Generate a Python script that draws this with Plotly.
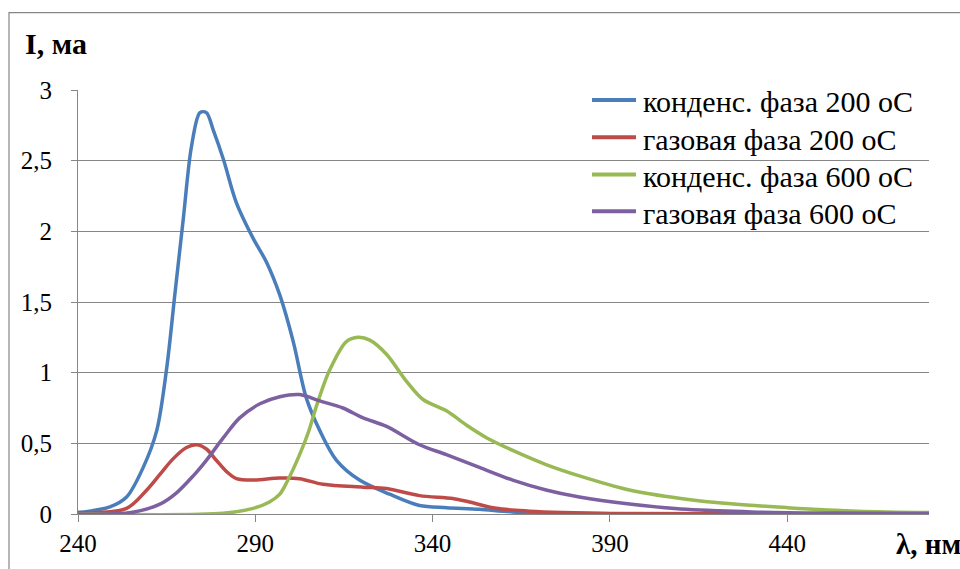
import plotly.graph_objects as go

# ---- data ----
blue_x = [240, 249, 253.7, 258.4, 262.2, 265, 267.3, 269.7, 272, 274.4, 276.2, 278.1, 281, 284.7,
          289.4, 293.2, 296.9, 300.7, 304.4, 308.2, 312.9, 319.4, 327.9, 336.3, 343.9, 353.2,
          362.5, 375, 400, 480]
blue_y = [0.01, 0.05, 0.12, 0.33, 0.59, 1.03, 1.55, 2.09, 2.60, 2.84, 2.84, 2.72, 2.51, 2.20,
          1.95, 1.78, 1.55, 1.22, 0.82, 0.59, 0.38, 0.24, 0.14, 0.06, 0.045, 0.033,
          0.015, 0.005, 0, 0]

red_x = [240, 253.7, 259.4, 263.1, 266.8, 270.6, 273.4, 276.2, 279, 281.9, 284.7, 289.4, 296.9,
         302.5, 309.1, 320.4, 327, 336.3, 345.7, 350.4, 357.9, 367.3, 376.6, 390, 480]
red_y = [0.01, 0.04, 0.17, 0.28, 0.39, 0.47, 0.49, 0.46, 0.38, 0.30, 0.25, 0.24, 0.255,
         0.25, 0.21, 0.19, 0.18, 0.13, 0.11, 0.085, 0.04, 0.02, 0.01, 0.003, 0]

green_x = [240, 281, 289.4, 294, 296.9, 299, 302.5, 305, 307.2, 311, 315.7, 319, 322.3, 327,
           332.6, 337.3, 343.9, 349.5, 355.2, 362.6, 372, 381.4, 395.5, 410, 425, 440, 460, 480]
green_y = [0, 0.005, 0.04, 0.085, 0.14, 0.23, 0.42, 0.58, 0.76, 1.02, 1.22, 1.25, 1.23, 1.13,
           0.94, 0.81, 0.73, 0.63, 0.54, 0.45, 0.35, 0.27, 0.17, 0.11, 0.07, 0.045, 0.02, 0.01]

purple_x = [240, 255, 263.1, 267.8, 272.5, 276.2, 281, 285.6, 291.3, 296.9, 302.5, 308.2, 314.7,
            320.4, 327, 336.3, 343.9, 353.2, 362.6, 372, 381.4, 395.5, 410, 430, 450, 480]
purple_y = [0, 0.01, 0.07, 0.15, 0.27, 0.38, 0.54, 0.68, 0.78, 0.83, 0.845, 0.80, 0.75,
            0.68, 0.62, 0.49, 0.42, 0.33, 0.24, 0.17, 0.12, 0.07, 0.035, 0.015, 0.007, 0.003]

series_names = ["конденс. фаза 200 оС", "газовая фаза 200 оС",
                "конденс. фаза 600 оС", "газовая фаза 600 оС"]
x_ticks = [240, 290, 340, 390, 440]
y_ticks = [0, 0.5, 1, 1.5, 2, 2.5, 3]

colors = ["#4A7EBB", "#BE4B48", "#98B954", "#7D60A0"]
FONT = "Liberation Serif"

fig = go.Figure()
for i, (xs, ys) in enumerate([(blue_x, blue_y), (red_x, red_y),
                               (green_x, green_y), (purple_x, purple_y)]):
    fig.add_trace(go.Scatter(
        x=xs, y=ys, mode="lines", name=series_names[i], showlegend=False,
        line=dict(color=colors[i], width=3.5, shape="spline", smoothing=0.9),
    ))

W, H = 960, 569
L, R, T, B = 78, 31, 90, 52
pw, ph = W - L - R, H - T - B


def px(x):
    return (x - L) / pw


def py(y):
    return (H - B - y) / ph


# legend drawn as paper-positioned lines and texts
legend_rows = [100, 137.5, 175, 212]
shapes = [
    dict(type="rect", xref="paper", yref="paper",
         x0=px(9), x1=px(975), y0=py(585), y1=py(12),
         line=dict(color="#868686", width=1.2), fillcolor="rgba(0,0,0,0)", layer="below"),
]
annotations = [
    dict(text="<b>I, ма</b>", xref="paper", yref="paper", x=px(23), y=py(43),
         xanchor="left", yanchor="middle", showarrow=False,
         font=dict(family=FONT, size=30, color="black")),
    dict(text="<b>λ, нм</b>", xref="paper", yref="paper", x=px(963), y=py(547),
         xanchor="right", yanchor="middle", showarrow=False,
         font=dict(family=FONT, size=29, color="black")),
]
for i, ry in enumerate(legend_rows):
    shapes.append(dict(type="line", xref="paper", yref="paper",
                       x0=px(592), x1=px(636), y0=py(ry), y1=py(ry),
                       line=dict(color=colors[i], width=4)))
    annotations.append(dict(text=series_names[i], xref="paper", yref="paper",
                            x=px(641), y=py(ry + 2), xanchor="left", yanchor="middle",
                            showarrow=False,
                            font=dict(family=FONT, size=30, color="black")))

fig.update_layout(
    width=W, height=H,
    margin=dict(l=L, r=R, t=T, b=B),
    paper_bgcolor="white", plot_bgcolor="white",
    separators=", ",
    font=dict(family=FONT, size=24, color="black"),
    showlegend=False,
    xaxis=dict(
        range=[240, 480], tickvals=x_ticks, ticktext=[str(v) for v in x_ticks],
        showgrid=False, zeroline=False, showline=True, linecolor="#868686", linewidth=1.2,
        ticks="outside", ticklen=7, tickcolor="#868686", tickwidth=1.2,
        tickfont=dict(family=FONT, size=25, color="black"),
    ),
    yaxis=dict(
        range=[0, 3], tickvals=y_ticks,
        showgrid=True, gridcolor="#868686", gridwidth=1.2,
        zeroline=False, showline=True, linecolor="#868686", linewidth=1.2,
        ticks="outside", ticklen=6, tickcolor="#868686", tickwidth=1.2,
        ticklabelstandoff=14,
        tickfont=dict(family=FONT, size=25, color="black"),
    ),
    shapes=shapes,
    annotations=annotations,
)

fig.write_html("out.html")
